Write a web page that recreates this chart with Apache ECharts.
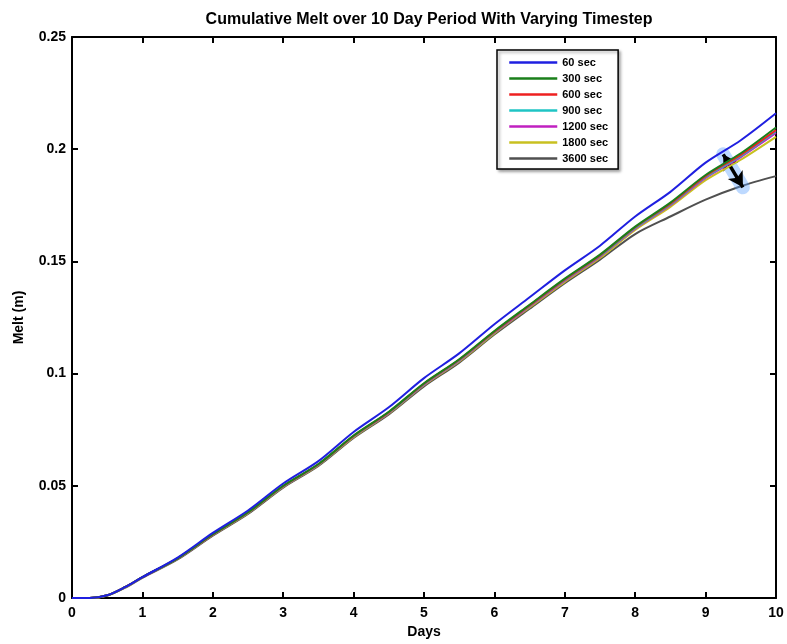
<!DOCTYPE html>
<html>
<head>
<meta charset="utf-8">
<script src="https://cdn.jsdelivr.net/npm/echarts@6/dist/echarts.min.js"></script>
<style>
  html, body { margin: 0; padding: 0; background: #fff; }
  #chart { width: 787px; height: 644px; }
</style>
</head>
<body>
<div id="chart"></div>
<script>
// days along the x axis
const days = [0, 0.25, 0.5, 0.75, 1, 1.5, 2, 2.5, 3, 3.5, 4, 4.5, 5, 5.5, 6, 6.5, 7, 7.5, 8, 8.5, 9, 9.5, 10];

// cumulative melt (m), one list per timestep
const melt60 = [0, 0, 0.0012, 0.0048, 0.0093, 0.0180, 0.0290, 0.0390, 0.0510, 0.0610, 0.0740, 0.0850, 0.0980, 0.1090, 0.1220, 0.1340, 0.1460, 0.1570, 0.1700, 0.1810, 0.1940, 0.2040, 0.2160];
const melt300 = [0, 0, 0.0012, 0.0048, 0.0093, 0.0177, 0.0284, 0.0382, 0.0500, 0.0597, 0.0724, 0.0830, 0.0957, 0.1064, 0.1190, 0.1307, 0.1423, 0.1530, 0.1655, 0.1762, 0.1885, 0.1982, 0.2097];
const melt600 = [0, 0, 0.0012, 0.0048, 0.0093, 0.0177, 0.0283, 0.0381, 0.0499, 0.0596, 0.0722, 0.0828, 0.0955, 0.1062, 0.1187, 0.1304, 0.1420, 0.1527, 0.1652, 0.1757, 0.1880, 0.1975, 0.2085];
const melt900 = [0, 0, 0.0012, 0.0048, 0.0093, 0.0177, 0.0283, 0.0380, 0.0498, 0.0595, 0.0721, 0.0827, 0.0953, 0.1060, 0.1185, 0.1302, 0.1417, 0.1524, 0.1649, 0.1754, 0.1876, 0.1970, 0.2080];
const melt1200 = [0, 0, 0.0012, 0.0048, 0.0092, 0.0176, 0.0282, 0.0380, 0.0497, 0.0594, 0.0720, 0.0825, 0.0951, 0.1058, 0.1183, 0.1299, 0.1414, 0.1521, 0.1646, 0.1750, 0.1872, 0.1965, 0.2072];
const melt1800 = [0, 0, 0.0011, 0.0047, 0.0092, 0.0175, 0.0281, 0.0378, 0.0495, 0.0592, 0.0717, 0.0822, 0.0948, 0.1054, 0.1179, 0.1295, 0.1409, 0.1515, 0.1640, 0.1743, 0.1862, 0.1953, 0.2055];
const melt3600 = [0, 0, 0.0010, 0.0045, 0.0090, 0.0172, 0.0278, 0.0375, 0.0492, 0.0588, 0.0713, 0.0818, 0.0943, 0.1049, 0.1174, 0.1289, 0.1403, 0.1508, 0.1622, 0.1700, 0.1775, 0.1835, 0.1880];

const seriesNames = ['60 sec', '300 sec', '600 sec', '900 sec', '1200 sec', '1800 sec', '3600 sec'];
const seriesColors = ['#1f1fe0', '#1a7f1a', '#ee2020', '#1fc4c4', '#c020c0', '#c8c020', '#505050'];
const seriesData = [melt60, melt300, melt600, melt900, melt1200, melt1800, melt3600];

// arrow marking the spread at day ~9.4
const arrowFrom = [9.25, 0.1977];
const arrowTo = [9.53, 0.1830];

const xTicks = [0, 10, 1];
const yTicks = [0, 0.25, 0.05];

const font = 'Liberation Sans, Arial, sans-serif';

const chart = echarts.init(document.getElementById('chart'), null, { renderer: 'canvas' });

const series = seriesData.map((vals, i) => ({
    name: seriesNames[i],
    type: 'line',
    data: days.map((d, k) => [d, vals[k]]),
    smooth: 0.3,
    symbol: 'none',
    color: seriesColors[i],
    lineStyle: { width: 2, color: seriesColors[i] },
    z: 10 - i + (i === 0 ? 10 : 0),
    animation: false
}));

// soft blue halo under the arrow
const glow = { type: 'solid', color: 'rgba(90,160,255,0.4)', width: 14, cap: 'round' };
series.push({
    type: 'line',
    data: [],
    silent: true,
    markLine: {
        silent: true,
        symbol: ['none', 'none'],
        label: { show: false },
        lineStyle: glow,
        data: [[{ coord: arrowFrom, lineStyle: glow }, { coord: arrowTo, lineStyle: glow }]],
        animation: false
    },
    z: 29
});

// black double arrow
const arrowLine = { type: 'solid', color: '#000', width: 3.5 };
series.push({
    type: 'line',
    data: [],
    silent: true,
    markLine: {
        silent: true,
        symbol: ['arrow', 'arrow'],
        symbolSize: [13, 15],
        label: { show: false },
        lineStyle: arrowLine,
        data: [[{ coord: arrowFrom }, { coord: arrowTo }]],
        animation: false
    },
    z: 30
});

const axisLine = { show: true, onZero: false, lineStyle: { color: '#000', width: 2 } };
const tickIn = { show: true, inside: true, length: 6, lineStyle: { color: '#000', width: 2 } };
const labelStyle = { color: '#000', fontSize: 14, fontWeight: 'bold', fontFamily: font };

const option = {
    backgroundColor: '#fff',
    animation: false,
    title: {
        text: 'Cumulative Melt over 10 Day Period With Varying Timestep',
        left: 424,
        top: 7,
        textAlign: 'center',
        textStyle: { color: '#000', fontSize: 16, fontWeight: 'bold', fontFamily: font }
    },
    legend: {
        data: seriesNames,
        orient: 'vertical',
        left: 497,
        top: 50,
        padding: [7, 10, 5, 11],
        itemWidth: 48,
        itemHeight: 12,
        itemGap: 5,
        borderColor: '#000',
        borderWidth: 1.5,
        backgroundColor: '#fff',
        shadowColor: 'rgba(0,0,0,0.35)',
        shadowBlur: 3,
        shadowOffsetX: 2,
        shadowOffsetY: 2,
        itemStyle: { opacity: 0 },
        lineStyle: { width: 2.5 },
        textStyle: { color: '#000', fontSize: 11, fontWeight: 'bold', fontFamily: font }
    },
    grid: { left: 72, right: 11, top: 37, bottom: 43 },
    xAxis: [
        {
            type: 'value',
            min: xTicks[0], max: xTicks[1], interval: xTicks[2],
            name: 'Days',
            nameLocation: 'middle',
            nameGap: 27,
            nameTextStyle: { color: '#000', fontSize: 14, fontWeight: 'bold', fontFamily: font },
            axisLine, axisTick: tickIn,
            axisLabel: Object.assign({ margin: 8 }, labelStyle),
            splitLine: { show: false }
        },
        {
            type: 'value', position: 'top',
            min: xTicks[0], max: xTicks[1], interval: xTicks[2],
            axisLine, axisTick: tickIn,
            axisLabel: { show: false },
            splitLine: { show: false }
        }
    ],
    yAxis: [
        {
            type: 'value',
            min: yTicks[0], max: yTicks[1], interval: yTicks[2],
            name: 'Melt (m)',
            nameLocation: 'middle',
            nameGap: 46,
            nameRotate: 90,
            nameTextStyle: { color: '#000', fontSize: 14, fontWeight: 'bold', fontFamily: font },
            axisLine, axisTick: tickIn,
            axisLabel: Object.assign({ margin: 6 }, labelStyle),
            splitLine: { show: false }
        },
        {
            type: 'value', position: 'right',
            min: yTicks[0], max: yTicks[1], interval: yTicks[2],
            axisLine, axisTick: tickIn,
            axisLabel: { show: false },
            splitLine: { show: false }
        }
    ],
    series
};

chart.setOption(option);
</script>
</body>
</html>
